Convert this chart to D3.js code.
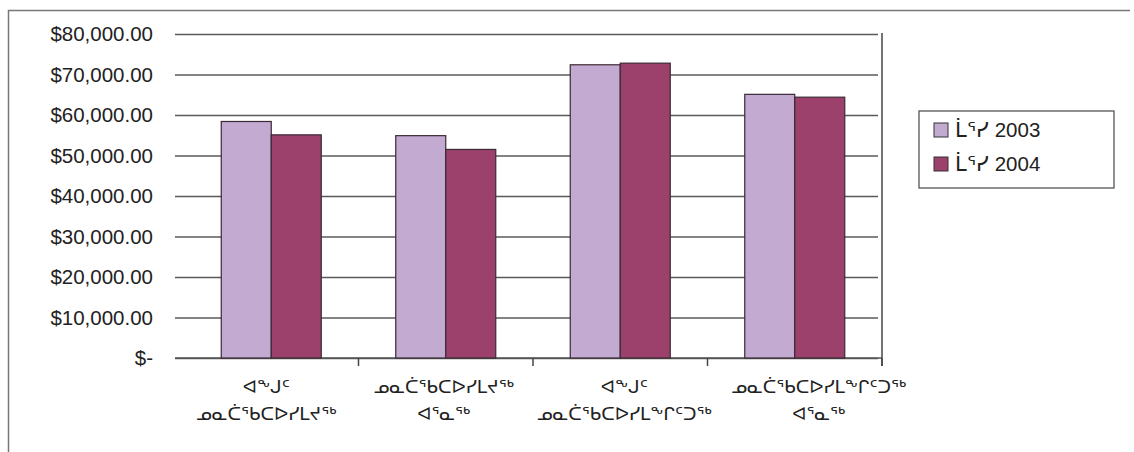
<!DOCTYPE html>
<html><head><meta charset="utf-8">
<script src="https://cdn.jsdelivr.net/npm/d3@7"></script>
<style>
html,body{margin:0;padding:0;background:#fff;}
svg{display:block;}
text{font-family:"Liberation Sans",Arial,sans-serif;fill:#222;}
.cat{font-family:"DejaVu Sans",sans-serif;}
</style>
</head><body>
<svg id="chart" width="1134" height="452"></svg>
<script>
const categories = [
  ["ᐊᖕᒍᑦ", "ᓄᓇᑖᕐᑲᑕᐅᓯᒪᔪᖅ"],
  ["ᓄᓇᑖᕐᑲᑕᐅᓯᒪᔪᖅ", "ᐊᕐᓇᖅ"],
  ["ᐊᖕᒍᑦ", "ᓄᓇᑖᕐᑲᑕᐅᓯᒪᖕᒋᑦᑐᖅ"],
  ["ᓄᓇᑖᕐᑲᑕᐅᓯᒪᖕᒋᑦᑐᖅ", "ᐊᕐᓇᖅ"]
];
const seriesNames = ["ᒫᕐᓯ 2003", "ᒫᕐᓯ 2004"];
const values2003 = [58400, 54900, 72400, 65100];
const values2004 = [55100, 51500, 72800, 64400];
const yTicks = [0, 10000, 20000, 30000, 40000, 50000, 60000, 70000, 80000];
const colors = ["#C3AAD1", "#9B416B"];
// horizontal nudge of each category label (layout only)
const labelShift = [-5, -2, 4, 24];

const svg = d3.select("#chart");

// outer frame
svg.append("path").attr("d", "M8.5,452 V10.5 H1130")
  .attr("fill", "none").attr("stroke", "#777").attr("stroke-width", 1.5);

const plotL = 184, plotR = 882, plotT = 34, plotB = 358;
const x0 = d3.scaleBand().domain(d3.range(categories.length)).range([plotL, plotR]).paddingInner(0).paddingOuter(0);
const x1 = d3.scaleBand().domain([0, 1]).range([0, 100]);
const y = d3.scaleLinear().domain([0, 80000]).range([plotB, plotT]);

// y axis with gridlines
const yAxis = d3.axisLeft(y).tickValues(yTicks)
  .tickSize(-(878 - 175)).tickPadding(22)
  .tickFormat(d => d === 0 ? "$-" : "$" + d3.format(",.2f")(d));
const gy = svg.append("g").attr("transform", "translate(175,0)").call(yAxis);
gy.select(".domain").remove();
gy.selectAll(".tick line").attr("stroke", "#5a5a5a").attr("stroke-width", 1.3);
gy.selectAll(".tick text").attr("font-size", "20.5px").attr("fill", "#222")
  .style("font-family", "'Liberation Sans', Arial, sans-serif");

// right frame line + bottom axis
svg.append("line").attr("x1", plotR).attr("x2", plotR).attr("y1", 33).attr("y2", 366)
  .attr("stroke", "#444").attr("stroke-width", 1.5);
svg.append("line").attr("x1", 175).attr("x2", plotR).attr("y1", plotB).attr("y2", plotB)
  .attr("stroke", "#555").attr("stroke-width", 1.3);
// category separators
const sepXs = d3.range(1, categories.length + 1).map(i => x0(i - 1) + x0.bandwidth());
svg.selectAll(".sep").data(sepXs).enter().append("line")
  .attr("x1", d => d).attr("x2", d => d).attr("y1", plotB).attr("y2", 366)
  .attr("stroke", "#444").attr("stroke-width", 1.5);

// bars
const series = [values2003, values2004];
const groups = svg.selectAll(".grp").data(categories).enter().append("g")
  .attr("transform", (d, i) => `translate(${x0(i) + x0.bandwidth() / 2 - 50},0)`);
groups.selectAll("rect").data((d, i) => series.map((s, k) => ({k, v: s[i]}))).enter().append("rect")
  .attr("x", d => x1(d.k)).attr("width", x1.bandwidth())
  .attr("y", d => y(d.v)).attr("height", d => plotB - y(d.v))
  .attr("fill", d => colors[d.k]).attr("stroke", "#3a2a35").attr("stroke-width", 1.2);

// category labels
const labels = svg.selectAll(".cat").data(categories).enter().append("text")
  .attr("class", "cat").attr("text-anchor", "middle").attr("font-size", "18.5px")
  .attr("x", (d, i) => x0(i) + x0.bandwidth() / 2 + labelShift[i]);
labels.selectAll("tspan").data(d => d).enter().append("tspan")
  .attr("x", function() { return d3.select(this.parentNode).attr("x"); })
  .attr("y", (d, j) => 393 + j * 27).text(d => d);

// legend
const lg = svg.append("g");
lg.append("rect").attr("x", 919).attr("y", 111).attr("width", 195).attr("height", 77)
  .attr("fill", "#fff").attr("stroke", "#555").attr("stroke-width", 1.3);
seriesNames.forEach((n, i) => {
  lg.append("rect").attr("x", 934).attr("y", 123 + i * 34).attr("width", 14).attr("height", 14)
    .attr("fill", colors[i]).attr("stroke", "#333").attr("stroke-width", 1);
  lg.append("text").attr("x", 955).attr("y", 137 + i * 34).attr("font-size", "20.5px").text(n);
});
</script>
</body></html>
